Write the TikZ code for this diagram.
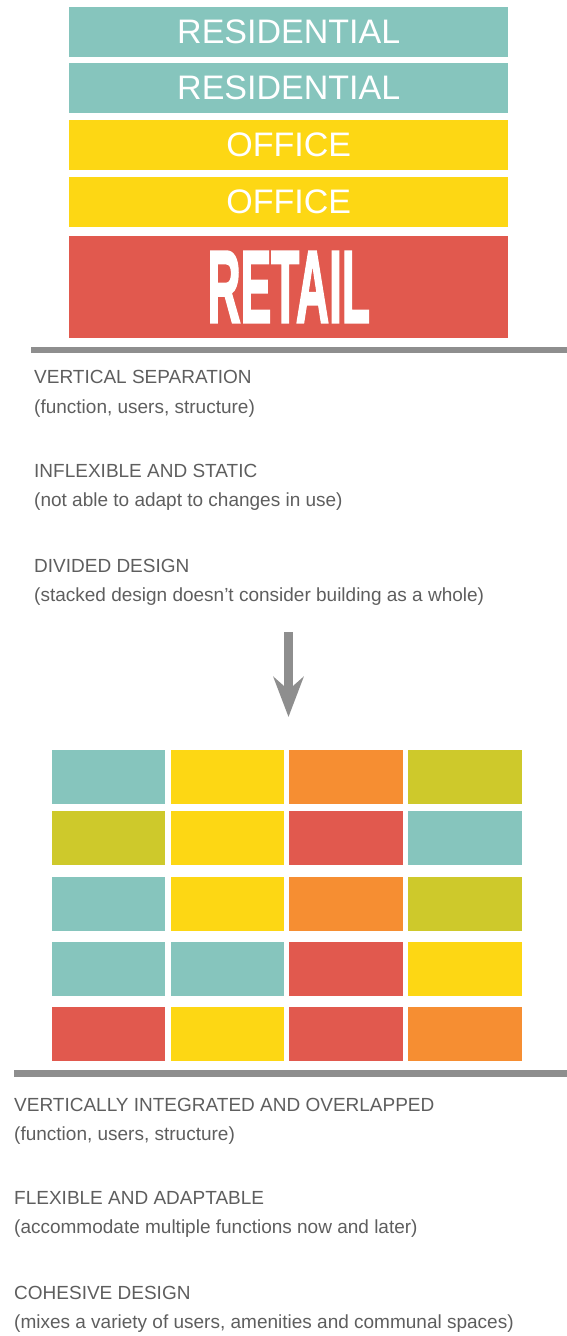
\documentclass[tikz,border=0pt]{standalone}
\usepackage{fontspec}
\setmainfont{Liberation Sans}
\newfontfamily\retailfont{Liberation Sans Bold}[FakeBold=2.5]
\usepackage{xcolor}
\usetikzlibrary{arrows.meta,calc}

\definecolor{resi}{HTML}{86C5BD}
\definecolor{offi}{HTML}{FDD714}
\definecolor{shop}{HTML}{E1594E}
\definecolor{orng}{HTML}{F68E32}
\definecolor{oliv}{HTML}{CEC92B}
\definecolor{floor}{HTML}{8E8E8E}
\definecolor{note}{HTML}{5E5E5E}

\begin{document}
\begin{tikzpicture}[x=1pt, y=-1pt, >=Stealth,
    bar/.style={rectangle, minimum width=438.6pt, minimum height=50pt, inner sep=0pt,
      text=white, font=\fontsize{34}{34}\selectfont},
    cell/.style={rectangle, minimum width=113.5pt, minimum height=54pt, inner sep=0pt},
    txt/.style={anchor=base west, inner sep=0pt, text=note, font=\fontsize{19}{19}\selectfont}]
    \useasboundingbox (0,0) rectangle (567,1336);

    % stacked tower
    \node[bar, fill=resi] (res1) at (288.7,32) {RESIDENTIAL};
    \node[bar, fill=resi] (res2) at (288.7,88) {RESIDENTIAL};
    \node[bar, fill=offi] (off1) at (288.7,145) {OFFICE};
    \node[bar, fill=offi] (off2) at (288.7,202) {OFFICE};
    \node[bar, fill=shop, minimum height=102pt, font=\retailfont\fontsize{102}{102}\selectfont] (retail) at (288.7,287) {\scalebox{0.45}[1.01]{RETAIL}};

    \coordinate (G1) at (31,350);
    \coordinate (G1e) at (567,350);
    \draw[floor, line width=6.5pt] (G1) -- (G1e);

    \node[txt] (sep) at (34,383) {VERTICAL SEPARATION};
    \node[txt] (sepn) at (34,413) {(function, users, structure)};
    \node[txt] (stat) at (34,477) {INFLEXIBLE AND STATIC};
    \node[txt] (statn) at (34,506) {(not able to adapt to changes in use)};
    \node[txt] (div) at (34,572) {DIVIDED DESIGN};
    \node[txt] (divn) at (34,601) {(stacked design doesn’t consider building as a whole)};

    \coordinate (A1) at (288.5,632);
    \coordinate (A2) at (288.5,717);
    \draw[floor, line width=9pt, -{Stealth[length=40pt, width=30pt, inset=13pt]}] (A1) -- (A2);

    % mixed grid
    \foreach \r/\c/\col in {1/1/resi,1/2/offi,1/3/orng,1/4/oliv,
                            2/1/oliv,2/2/offi,2/3/shop,2/4/resi,
                            3/1/resi,3/2/offi,3/3/orng,3/4/oliv,
                            4/1/resi,4/2/resi,4/3/shop,4/4/offi,
                            5/1/shop,5/2/offi,5/3/shop,5/4/orng}{
        \pgfmathsetmacro{\yy}{{777,838,903.5,969,1034}[\r-1]}
        \node[cell, fill=\col] (c\r\c) at ({108.5+(\c-1)*118.8},\yy) {};
    }

    \coordinate (G2) at (14,1073.5);
    \coordinate (G2e) at (567,1073.5);
    \draw[floor, line width=7.5pt] (G2) -- (G2e);

    \node[txt] (integ) at (14,1111) {VERTICALLY INTEGRATED AND OVERLAPPED};
    \node[txt] (integn) at (14,1140) {(function, users, structure)};
    \node[txt] (flex) at (14,1204) {FLEXIBLE AND ADAPTABLE};
    \node[txt] (flexn) at (14,1233) {(accommodate multiple functions now and later)};
    \node[txt] (coh) at (14,1299) {COHESIVE DESIGN};
    \node[txt] (cohn) at (14,1328) {(mixes a variety of users, amenities and communal spaces)};
\end{tikzpicture}
\end{document}
